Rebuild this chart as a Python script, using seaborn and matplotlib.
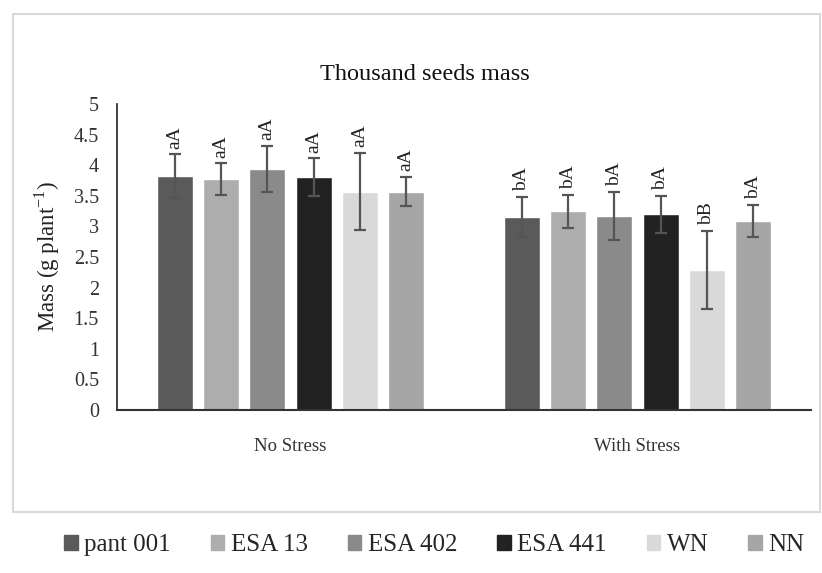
import matplotlib
matplotlib.use("Agg")
import matplotlib.pyplot as plt
import seaborn as sns
import pandas as pd
import numpy as np
from matplotlib.patches import Rectangle

conditions = ["No Stress", "With Stress"]
genotypes = ["pant 001", "ESA 13", "ESA 402", "ESA 441", "WN", "NN"]
no_stress = [3.82, 3.77, 3.94, 3.80, 3.57, 3.57]
with_stress = [3.15, 3.25, 3.17, 3.20, 2.29, 3.09]
err_no_stress = [0.36, 0.26, 0.38, 0.31, 0.63, 0.24]
err_with_stress = [0.33, 0.27, 0.40, 0.30, 0.64, 0.26]
labels_no_stress = ["aA", "aA", "aA", "aA", "aA", "aA"]
labels_with_stress = ["bA", "bA", "bA", "bA", "bB", "bA"]
colors = ["#5a5a5a", "#adadad", "#8a8a8a", "#222222", "#d9d9d9", "#a6a6a6"]
yticks = [0, 0.5, 1, 1.5, 2, 2.5, 3, 3.5, 4, 4.5, 5]

sns.set_style("white")
plt.rcParams["font.family"] = ["Liberation Serif", "DejaVu Serif"]
plt.rcParams["mathtext.fontset"] = "custom"
plt.rcParams["mathtext.rm"] = "Liberation Serif"

rows = []
for i, g in enumerate(genotypes):
    rows.append({"cond": conditions[0], "geno": g, "val": no_stress[i],
                 "err": err_no_stress[i], "lab": labels_no_stress[i]})
    rows.append({"cond": conditions[1], "geno": g, "val": with_stress[i],
                 "err": err_with_stress[i], "lab": labels_with_stress[i]})
df = pd.DataFrame(rows)

fig = plt.figure(figsize=(8.22, 5.73), dpi=100)
ax = fig.add_axes([117/822, 1-410/573, (811-117)/822, (410-104)/573])

sns.barplot(data=df, x="cond", y="val", hue="geno", order=conditions,
            hue_order=genotypes, palette=colors, width=0.8, gap=0.22,
            errorbar=None, ax=ax, saturation=1, legend=False)

bar_containers = list(ax.containers)
for gi, cont in enumerate(bar_containers):
    g = genotypes[gi]
    for ci, bar in enumerate(cont):
        c = conditions[ci]
        r = df[(df.geno == g) & (df.cond == c)].iloc[0]
        xc = bar.get_x() + bar.get_width() / 2
        ax.errorbar(xc, r.val, yerr=r.err, color="#555555", lw=1.6,
                    capsize=4.5, capthick=1.6, fmt="none", zorder=3)
        ax.annotate(r.lab, (xc, r.val + r.err), xytext=(0, 4),
                    textcoords="offset points", rotation=90, ha="center",
                    va="bottom", fontsize=14, color="#222222")

ax.set_ylim(0, 5)
ax.set_xlim(-0.5, 1.5)
ax.set_yticks(yticks)
ax.set_yticklabels([f"{t:g}" for t in yticks], fontsize=14.5, color="#333333")
ax.tick_params(axis="x", labelsize=13.5, colors="#333333", pad=20, length=0)
ax.tick_params(axis="y", length=0, pad=13)
ax.set_xlabel("")
ax.set_ylabel("")
for s in ["top", "right"]:
    ax.spines[s].set_visible(False)
ax.spines["left"].set_color("#222222")
ax.spines["bottom"].set_color("#333333")
ax.spines["left"].set_linewidth(1.2)
ax.spines["bottom"].set_linewidth(1.5)

fig.text(47/822, 1-256/573, r"Mass (g plant$^{\mathregular{-1}}$)", rotation=90,
         ha="center", va="center", fontsize=16.5, color="#222222")
fig.text(425/822, 1-75/573, "Thousand seeds mass", ha="center", va="center",
         fontsize=17.5, color="#111111")

fig.patches.append(Rectangle((13/822, 1-512/573), (820-13)/822, (512-14)/573,
                             transform=fig.transFigure, fill=False,
                             edgecolor="#d9d9d9", lw=1.5))

handles = [Rectangle((0, 0), 1, 1, color=c) for c in colors]
fig.legend(handles, genotypes, loc="center", bbox_to_anchor=(434/822, 1-545/573),
           ncol=6, frameon=False, fontsize=18, handlelength=0.55,
           handleheight=0.55, handletextpad=0.25, columnspacing=1.6)

fig.savefig("out.png", dpi=100)
